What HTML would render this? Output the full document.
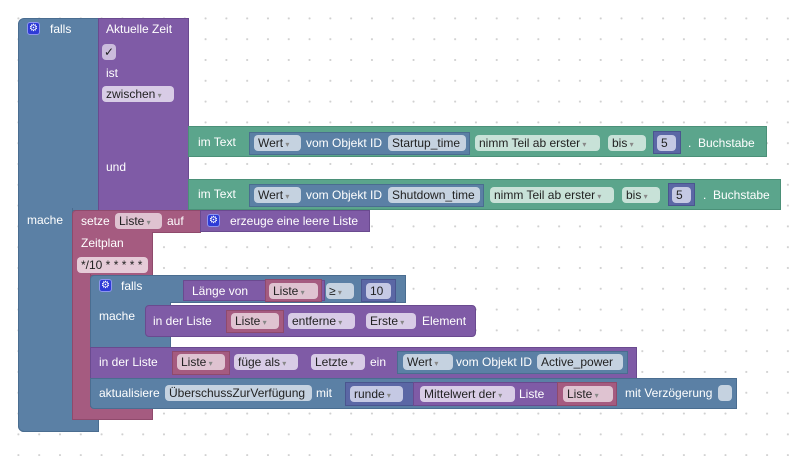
<!DOCTYPE html>
<html><head><meta charset="utf-8"><style>
body{margin:0;width:799px;height:456px;overflow:hidden;background:#fff;
background-image:radial-gradient(circle,#d0d0d0 0.9px,transparent 1.2px);background-size:20.8px 20.8px;background-position:8px 8px;
font-family:"Liberation Sans",Arial,sans-serif;font-size:12px;position:relative}
.b{position:absolute;box-sizing:border-box}
.t{position:absolute;color:#fff;white-space:nowrap;line-height:14px}
.f{position:absolute;border-radius:4px;color:#222;white-space:nowrap;line-height:16px;padding:0 4px;box-sizing:border-box;height:16px;font-size:12px}
.dd::after{content:" ▾";font-size:8px;color:#888}
.blue{background:#5b80a5;border:1px solid #4a6d90}
.pur{background:#7f5ba6;border:1px solid #6a4a8f}
.grn{background:#5ba58c;border:1px solid #4b9078}
.pnk{background:#a55b80;border:1px solid #8f4a6c}
.num{background:#5b67a5;border:1px solid #4a558f}
.gear{position:absolute;width:13px;height:13px;background:#2e3bd6;border-radius:3px;border:1px solid #8d95f0;box-sizing:border-box;color:#fff;font-size:10px;line-height:11px;text-align:center}
</style></head><body>
<div class="b blue" style="left:18px;top:18px;width:81px;height:193px;border-radius:6px 0 0 0"></div>
<div class="b blue" style="left:18px;top:208px;width:55px;height:224px;border-radius:0 0 0 6px;border-top:none"></div>
<div class="b blue" style="left:18px;top:418px;width:81px;height:14px;border-radius:0 0 0 6px;border-top:none"></div>
<div class="gear" style="left:27px;top:22px">⚙</div>
<div class="t" style="left:50px;top:22px">falls</div>
<div class="t" style="left:27px;top:213px">mache</div>
<div class="b pur" style="left:98px;top:18px;width:91px;height:193px"></div>
<div class="t" style="left:106px;top:22px">Aktuelle Zeit</div>
<div class="f" style="left:102px;top:44px;width:14px;background:#cbbcdc;padding:0 2px">✓</div>
<div class="t" style="left:106px;top:66px">ist</div>
<div class="f dd" style="left:102px;top:86px;width:72px;background:#d8cce6">zwischen</div>
<div class="t" style="left:106px;top:160px">und</div>
<div class="b grn" style="left:188px;top:126px;width:579px;height:31px"></div>
<div class="t" style="left:198px;top:135px">im Text</div>
<div class="b blue" style="left:249px;top:132px;width:221px;height:23px"></div>
<div class="f dd" style="left:254px;top:135px;width:47px;background:#c5d2e0">Wert</div>
<div class="t" style="left:306px;top:136px">vom Objekt ID</div>
<div class="f" style="left:388px;top:135px;width:78px;background:#c5d2e0">Startup_time</div>
<div class="f dd" style="left:475px;top:135px;width:125px;background:#c8e2d8">nimm Teil ab erster</div>
<div class="f dd" style="left:608px;top:135px;width:38px;background:#c8e2d8">bis</div>
<div class="b num" style="left:653px;top:131px;width:28px;height:23px"></div>
<div class="f" style="left:657px;top:135px;width:19px;background:#c5c9e4">5</div>
<div class="t" style="left:688px;top:136px">.&nbsp;&nbsp;Buchstabe</div>
<div class="b grn" style="left:188px;top:179px;width:593px;height:31px"></div>
<div class="t" style="left:198px;top:187px">im Text</div>
<div class="b blue" style="left:249px;top:184px;width:235px;height:23px"></div>
<div class="f dd" style="left:254px;top:187px;width:47px;background:#c5d2e0">Wert</div>
<div class="t" style="left:306px;top:188px">vom Objekt ID</div>
<div class="f" style="left:388px;top:187px;width:92px;background:#c5d2e0">Shutdown_time</div>
<div class="f dd" style="left:490px;top:187px;width:124px;background:#c8e2d8">nimm Teil ab erster</div>
<div class="f dd" style="left:622px;top:187px;width:38px;background:#c8e2d8">bis</div>
<div class="b num" style="left:668px;top:183px;width:27px;height:23px"></div>
<div class="f" style="left:672px;top:187px;width:19px;background:#c5c9e4">5</div>
<div class="t" style="left:703px;top:188px">.&nbsp;&nbsp;Buchstabe</div>
<div class="b pnk" style="left:72px;top:210px;width:129px;height:23px;border-radius:4px 0 0 0"></div>
<div class="t" style="left:81px;top:214px">setze</div>
<div class="f dd" style="left:115px;top:213px;width:47px;background:#dfc3d1">Liste</div>
<div class="t" style="left:167px;top:214px">auf</div>
<div class="b pur" style="left:200px;top:210px;width:170px;height:22px"></div>
<div class="gear" style="left:207px;top:214px">⚙</div>
<div class="t" style="left:230px;top:214px">erzeuge eine leere Liste</div>
<div class="b pnk" style="left:72px;top:232px;width:81px;height:44px;border-top:none"></div>
<div class="b pnk" style="left:72px;top:274px;width:19px;height:146px;border-top:none;border-radius:0 0 0 4px"></div>
<div class="b pnk" style="left:72px;top:407px;width:81px;height:13px;border-top:none"></div>
<div class="t" style="left:81px;top:236px">Zeitplan</div>
<div class="f" style="left:77px;top:257px;width:71px;background:#e6cbd8">*/10 * * * * *</div>
<div class="b blue" style="left:90px;top:275px;width:81px;height:73px;border-radius:4px 0 0 0"></div>
<div class="b blue" style="left:170px;top:275px;width:236px;height:28px;border-left:none"></div>
<div class="gear" style="left:99px;top:279px">⚙</div>
<div class="t" style="left:121px;top:279px">falls</div>
<div class="t" style="left:99px;top:309px">mache</div>
<div class="b pur" style="left:183px;top:280px;width:142px;height:21px"></div>
<div class="t" style="left:192px;top:284px">Länge von</div>
<div class="b pnk" style="left:265px;top:279px;width:57px;height:23px"></div>
<div class="f dd" style="left:269px;top:283px;width:49px;background:#dfc3d1">Liste</div>
<div class="f dd" style="left:326px;top:283px;width:28px;background:#c5d2e0;padding:0 3px">≥</div>
<div class="b num" style="left:361px;top:279px;width:35px;height:23px"></div>
<div class="f" style="left:366px;top:283px;width:25px;background:#c5c9e4">10</div>
<div class="b pur" style="left:145px;top:305px;width:331px;height:32px;border-radius:4px"></div>
<div class="t" style="left:153px;top:314px">in der Liste</div>
<div class="b pnk" style="left:226px;top:310px;width:58px;height:23px"></div>
<div class="f dd" style="left:231px;top:313px;width:48px;background:#dfc3d1">Liste</div>
<div class="f dd" style="left:288px;top:313px;width:67px;background:#d8cce6">entferne</div>
<div class="f dd" style="left:366px;top:313px;width:50px;background:#d8cce6">Erste</div>
<div class="t" style="left:422px;top:314px">Element</div>
<div class="b pur" style="left:90px;top:347px;width:547px;height:32px"></div>
<div class="t" style="left:99px;top:355px">in der Liste</div>
<div class="b pnk" style="left:172px;top:351px;width:58px;height:24px"></div>
<div class="f dd" style="left:177px;top:354px;width:48px;background:#dfc3d1">Liste</div>
<div class="f dd" style="left:234px;top:354px;width:64px;background:#d8cce6">füge als</div>
<div class="f dd" style="left:311px;top:354px;width:54px;background:#d8cce6">Letzte</div>
<div class="t" style="left:370px;top:355px">ein</div>
<div class="b blue" style="left:397px;top:351px;width:231px;height:23px"></div>
<div class="f dd" style="left:403px;top:354px;width:50px;background:#c5d2e0">Wert</div>
<div class="t" style="left:456px;top:355px">vom Objekt ID</div>
<div class="f" style="left:537px;top:354px;width:86px;background:#c5d2e0">Active_power</div>
<div class="b blue" style="left:90px;top:378px;width:647px;height:31px;border-radius:0 0 0 4px"></div>
<div class="t" style="left:99px;top:386px">aktualisiere</div>
<div class="f" style="left:165px;top:385px;width:147px;background:#c5d2e0">ÜberschussZurVerfügung</div>
<div class="t" style="left:316px;top:386px">mit</div>
<div class="b num" style="left:345px;top:382px;width:268px;height:24px"></div>
<div class="f dd" style="left:350px;top:386px;width:53px;background:#c5c9e4">runde</div>
<div class="b pur" style="left:413px;top:382px;width:204px;height:24px"></div>
<div class="f dd" style="left:420px;top:386px;width:95px;background:#d8cce6">Mittelwert der</div>
<div class="t" style="left:519px;top:387px">Liste</div>
<div class="b pnk" style="left:557px;top:382px;width:60px;height:24px"></div>
<div class="f dd" style="left:563px;top:386px;width:50px;background:#dfc3d1">Liste</div>
<div class="t" style="left:625px;top:386px">mit Verzögerung</div>
<div class="f" style="left:718px;top:385px;width:14px;background:#c5d2e0"></div>
</body></html>
